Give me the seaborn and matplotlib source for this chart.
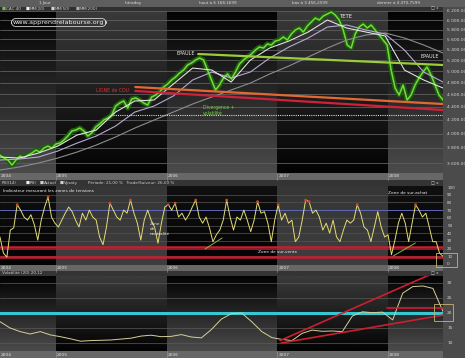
import numpy as np
import pandas as pd
import matplotlib
matplotlib.use("Agg")
import matplotlib.pyplot as plt
import matplotlib.dates as mdates
from matplotlib.colors import LinearSegmentedColormap
from matplotlib.patches import Rectangle
from matplotlib.ticker import FixedLocator, FixedFormatter, NullLocator
from matplotlib.transforms import blended_transform_factory
import seaborn as sns

# ------------------------------------------------------------------ data
years = [2004, 2005, 2006, 2007, 2008]
period_start = "2004-07-01"
period_end = "2008-06-30"

cac40 = [3704, 3665, 3639, 3574, 3639, 3691, 3665, 3704, 3731, 3771,
         3744, 3798, 3825, 3798, 3853, 3866, 3908, 3965, 4037, 4051,
         4080, 4037, 3965, 4008, 4095, 4139, 4198, 4228, 4274, 4414,
         4462, 4494, 4382, 4526, 4543, 4510, 4462, 4430, 4559, 4591,
         4641, 4724, 4775, 4844, 4896, 4967, 5020, 5111, 5148, 5203,
         5240, 5203, 5020, 4844, 4674, 4758, 4879, 4949, 4861, 4985,
         5129, 5203, 5259, 5316, 5392, 5451, 5431, 5510, 5490, 5569,
         5589, 5650, 5589, 5710, 5792, 5834, 5751, 5876, 5961, 6046,
         6003, 6089, 6133, 6178, 6111, 6003, 5792, 5490, 5431, 5710,
         5855, 5918, 5834, 5897, 5792, 5690, 5589, 5490, 5020, 4708,
         4591, 4758, 4510, 4591, 4758, 4879, 4985, 5074, 4931, 4758,
         4591, 4510]

mm20 = [3678, 3665, 3731, 3825, 3979, 4051, 4320, 4494, 4510, 4775, 5056, 5020,
        4809, 5203, 5431, 5569, 5751, 6003, 5834, 5751, 5670, 5020, 4844, 4708]
mm50 = [3639, 3652, 3678, 3758, 3866, 3965, 4109, 4320, 4414, 4575, 4844, 4985,
        4879, 4985, 5240, 5451, 5629, 5855, 5897, 5792, 5710, 5392, 4985, 4809]
mm200 = [3511, 3549, 3600, 3665, 3744, 3839, 3951, 4080, 4198, 4320, 4446, 4559,
         4674, 4792, 4949, 5093, 5259, 5431, 5589, 5690, 5731, 5629, 5490, 5335]

rsi = [35, 14, 9, 44, 47, 77, 70, 61, 57, 64, 51, 31, 57, 74, 87, 61, 53, 48, 57, 66,
       74, 68, 57, 48, 66, 57, 70, 61, 57, 35, 25, 48, 79, 70, 61, 57, 70, 66, 83, 66,
       53, 31, 57, 70, 57, 48, 27, 53, 74, 77, 70, 79, 61, 66, 57, 64, 74, 83, 61, 53,
       61, 47, 29, 38, 44, 57, 83, 61, 44, 61, 57, 70,
       57, 42, 57, 81, 66, 68, 53, 29, 57, 77, 57, 66, 53, 57, 29, 35, 57, 83, 81, 66,
       70, 61, 44, 53, 40, 57, 35, 29, 44, 57, 53, 57, 77, 66, 48, 44, 29, 48, 68, 48,
       35, 38, 12, 31, 53, 66, 53, 29, 53, 77, 70, 61, 66, 48, 29, 29, 14, 10]

volatilite = [17.1, 15.0, 13.8, 13.0, 13.8, 12.7, 12.1, 11.4, 10.6, 10.8,
              10.9, 11.0, 11.3, 11.6, 12.3, 12.6, 12.1, 12.2, 12.8, 12.0,
              11.7, 14.5, 18.0, 19.8, 20.0, 17.1, 13.8, 11.8, 11.2, 10.8,
              13.2, 14.3, 13.9, 14.0, 13.8, 19.0, 20.4, 20.1, 20.3, 17.7,
              26.6, 28.8, 29.0, 28.2, 20.5]

price_ticks = [3600, 3800, 4000, 4200, 4400, 4600, 4800, 5000, 5200, 5400, 5600, 5800, 6000, 6200]
rsi_ticks = [0, 10, 20, 30, 40, 50, 60, 70, 80, 90, 100]
vol_ticks = [10, 15, 20, 25, 30]

# hand-drawn lines of the analyst (dates, values)
epaule_line_dates, epaule_line_vals = ["2006-04-15", "2008-06-30"], [5316, 5111]
cou_orange_dates, cou_orange_vals = ["2005-09-20", "2008-06-30"], [4724, 4446]
cou_red_dates, cou_red_vals = ["2005-09-20", "2008-06-30"], [4658, 4351]
support_dates, support_vals = ["2005-07-08", "2008-06-30"], [4274, 4274]
rsi_div1_dates, rsi_div1_vals = ["2006-05-08", "2006-07-03"], [19.5, 33.8]
rsi_div2_dates, rsi_div2_vals = ["2008-01-18", "2008-03-31"], [10.4, 27.3]
rsi_red_levels = [22.5, 8.7]
rsi_blue_level = 70
vol_ref_level = 20
vol_up_dates, vol_up_vals = ["2007-01-10", "2008-06-10"], [10.8, 33.8]
vol_low_dates, vol_low_vals = ["2007-01-14", "2008-06-30"], [10.0, 19.3]
vol_flat_dates, vol_flat_vals = ["2007-12-29", "2008-06-30"], [21.7, 21.7]

# ------------------------------------------------------------------ frames
t0, t1 = pd.Timestamp(period_start), pd.Timestamp(period_end)
price_df = pd.DataFrame({"date": pd.date_range(t0, t1, periods=len(cac40)), "cac40": cac40})
ma_df = pd.DataFrame({"date": pd.date_range(t0, t1, periods=len(mm20)),
                      "mm20": mm20, "mm50": mm50, "mm200": mm200})
rsi_df = pd.DataFrame({"date": pd.date_range(t0, t1, periods=len(rsi)), "rsi": rsi})
vol_df = pd.DataFrame({"date": pd.date_range(t0, t1, periods=len(volatilite)), "vol": volatilite})

# ------------------------------------------------------------------ figure
sns.set_style("dark")
plt.rcParams["font.family"] = ["DejaVu Sans"]

W, H = 465, 358
fig = plt.figure(figsize=(W / 100, H / 100), dpi=100, facecolor="#4b4b4b")


def frect(x0, y0, x1, y1):
    return [x0 / W, 1 - y1 / H, (x1 - x0) / W, (y1 - y0) / H]


def ftext(x, y, s, **kw):
    kw.setdefault("fontsize", 3.2)
    kw.setdefault("color", "#dcdcdc")
    kw.setdefault("va", "center")
    return fig.text(x / W, 1 - y / H, s, **kw)


def band(x0, y0, x1, y1, color, ec="none"):
    fig.patches.append(Rectangle((x0 / W, 1 - y1 / H), (x1 - x0) / W, (y1 - y0) / H,
                                 transform=fig.transFigure, facecolor=color,
                                 edgecolor=ec, lw=0.5, zorder=0.5))


GRAY, BLACK = "#4a4a4a", "#030303"
bounds = [t0] + [pd.Timestamp(f"{y}-01-01") for y in years[1:]] + [t1]
dnum = [mdates.date2num(b) for b in bounds]
grad = np.linspace(0, 1, 64)[:, None]


def panel(rect, mode):
    bg = fig.add_axes(rect, zorder=0)
    for i in range(len(years)):
        even = (years[i] % 2 == 0)
        if mode == "grad":
            cols = [GRAY, BLACK] if even else [BLACK, "#3a3a3a"]   # bottom -> top
        else:
            cols = [BLACK, "#101010"] if even else ["#3e3e3e", "#363636"]
        cm = LinearSegmentedColormap.from_list("c", cols)
        bg.imshow(grad, extent=(dnum[i], dnum[i + 1], 0, 1), aspect="auto",
                  cmap=cm, vmin=0, vmax=1, origin="lower", interpolation="bilinear")
    bg.set_xlim(dnum[0], dnum[-1])
    bg.set_ylim(0, 1)
    bg.axis("off")
    ax = fig.add_axes(rect, zorder=1)
    ax.set_facecolor("none")
    for s in ax.spines.values():
        s.set_visible(False)
    return ax


def finish(ax, strip_y):
    ax.set_xlim(t0, t1)
    ax.set_xticks([])
    ax.set_xlabel("")
    ax.set_ylabel("")
    ax.yaxis.tick_right()
    ax.tick_params(axis="y", length=0, labelsize=3.2, labelcolor="#d5d5d5", pad=3)
    ax.grid(False)
    tr = blended_transform_factory(ax.transData, fig.transFigure)
    for i, y in enumerate(years):
        ax.text(dnum[i] + 3, 1 - strip_y / H, str(y), transform=tr, fontsize=3.2,
                color="#e2e2e2", ha="left", va="center")
        if i > 0:
            ax.plot([dnum[i], dnum[i]], [1 - (strip_y - 3.5) / H, 1 - (strip_y + 3.5) / H],
                    transform=tr, color="#9a9a9a", lw=0.4, clip_on=False)


# strips / bars
band(0, 0, W, 6.5, "#5e5e5e")
band(0, 6.5, 443, 10.5, "#303030")
band(0, 173, 443, 180, "#676767")
band(0, 180, 443, 186, "#343434")
band(0, 265, 443, 271, "#676767")
band(0, 271, 443, 276, "#343434")
band(0, 351, 443, 358, "#676767")

# ------------------------------------------------------------------ main panel
ax1 = panel(frect(0, 10, 443, 173), "grad")
ax1.set_yscale("log")
for t in price_ticks:
    ax1.axhline(t, color="#5f5f5f", lw=0.6, zorder=1)
sns.lineplot(data=price_df, x="date", y="cac40", ax=ax1, color="#1c5e0e", linewidth=3.6, zorder=3)
sns.lineplot(data=price_df, x="date", y="cac40", ax=ax1, color="#78d83e", linewidth=1.1, zorder=4)
sns.lineplot(data=ma_df, x="date", y="mm200", ax=ax1, color="#8d8d8d", linewidth=0.8, zorder=5)
sns.lineplot(data=ma_df, x="date", y="mm50", ax=ax1, color="#b8a8d4", linewidth=0.8, zorder=5)
sns.lineplot(data=ma_df, x="date", y="mm20", ax=ax1, color="#e8e8e8", linewidth=0.75, zorder=6)
ax1.plot(pd.to_datetime(support_dates), support_vals, color="#d8d8d8", lw=0.8, ls=(0, (1, 1)), zorder=6)
ax1.plot(pd.to_datetime(cou_orange_dates), cou_orange_vals, color="#e26a32", lw=1.6, zorder=7)
ax1.plot(pd.to_datetime(cou_red_dates), cou_red_vals, color="#d0203a", lw=1.6, zorder=7)
ax1.plot(pd.to_datetime(epaule_line_dates), epaule_line_vals, color="#9ccc3a", lw=1.6, zorder=7)
ax1.set_ylim(3474, 6222)
ax1.yaxis.set_major_locator(FixedLocator(price_ticks))
ax1.yaxis.set_minor_locator(NullLocator())
ax1.yaxis.set_major_formatter(FixedFormatter([f"{t:,.2f}".replace(",", " ") for t in price_ticks]))
finish(ax1, 176.5)

# ------------------------------------------------------------------ RSI panel
ax2 = panel(frect(0, 186, 443, 265), "flat")
for t in rsi_ticks[1:-1]:
    ax2.axhline(t, color="#555555", lw=0.5, zorder=1)
ax2.axhline(rsi_blue_level, color="#5d68b5", lw=0.7, zorder=1)
for lv in rsi_red_levels:
    ax2.axhline(lv, color="#c81d31", lw=1.8, zorder=2)
sns.lineplot(data=rsi_df, x="date", y="rsi", ax=ax2, color="#e4dc72", linewidth=0.7, zorder=4)
sns.scatterplot(data=rsi_df[rsi_df["rsi"] >= 77], x="date", y="rsi", ax=ax2,
                color="#d24a2c", s=4, edgecolor="none", zorder=5)
ax2.plot(pd.to_datetime(rsi_div1_dates), rsi_div1_vals, color="#7fb84a", lw=0.7, zorder=6)
ax2.plot(pd.to_datetime(rsi_div2_dates), rsi_div2_vals, color="#7fb84a", lw=0.7, zorder=6)
ax2.set_ylim(-1.3, 101.3)
ax2.yaxis.set_major_locator(FixedLocator(rsi_ticks))
ax2.yaxis.set_major_formatter(FixedFormatter([str(t) for t in rsi_ticks]))
finish(ax2, 268)
ax2.tick_params(axis="y", labelsize=3.0)

# ------------------------------------------------------------------ volatility panel
ax3 = panel(frect(0, 276, 443, 351), "grad")
for t in vol_ticks:
    ax3.axhline(t, color="#5a5a5a", lw=0.5, zorder=1)
ax3.axhline(vol_ref_level, color="#36c8d2", lw=2.2, zorder=2)
sns.lineplot(data=vol_df, x="date", y="vol", ax=ax3, color="#d8cf96", linewidth=0.7, zorder=4)
for d, v in [(vol_up_dates, vol_up_vals), (vol_low_dates, vol_low_vals), (vol_flat_dates, vol_flat_vals)]:
    ax3.plot(pd.to_datetime(d), v, color="#cc1f30", lw=1.2, zorder=5)
ax3.set_ylim(7.33, 32.33)
ax3.yaxis.set_major_locator(FixedLocator(vol_ticks))
ax3.yaxis.set_major_formatter(FixedFormatter([str(t) for t in vol_ticks]))
finish(ax3, 354.5)

# ------------------------------------------------------------------ texts
ftext(45, 3.2, "1 Jour", ha="center", fontsize=3.0)
ftext(133, 3.2, "Intraday", ha="center", fontsize=3.0)
ftext(218, 3.2, "haut à 6 168,1699", ha="center", fontsize=3.0)
ftext(310, 3.2, "bas à 3 456,2599", ha="center", fontsize=3.0)
ftext(398, 3.2, "dernier à 4 470,7599", ha="center", fontsize=3.0)

ftext(2, 8.6, "■", color="#6cc63a", fontsize=3.0)
ftext(6, 8.6, "CAC 40", fontsize=3.0, color="#cfcfcf")
ftext(26, 8.6, "■", color="#f2f2f2", fontsize=3.0)
ftext(30, 8.6, "MM(20)", fontsize=3.0, color="#cfcfcf")
ftext(51, 8.6, "■", color="#d6d6d6", fontsize=3.0)
ftext(55, 8.6, "MM(50)", fontsize=3.0, color="#cfcfcf")
ftext(76, 8.6, "■", color="#b0b0b0", fontsize=3.0)
ftext(80, 8.6, "MM(200)", fontsize=3.0, color="#cfcfcf")

ftext(2, 183, "RSI(14)", fontsize=3.0, color="#cfcfcf")
ftext(26, 183, "■", color="#f0f0f0", fontsize=3.0)
ftext(30, 183, "RSI", fontsize=3.0, color="#cfcfcf")
ftext(40, 183, "■", color="#d0d0d0", fontsize=3.0)
ftext(44, 183, "Actuel", fontsize=3.0, color="#cfcfcf")
ftext(60, 183, "■", color="#d0d0d0", fontsize=3.0)
ftext(64, 183, "Vysaty", fontsize=3.0, color="#cfcfcf")
ftext(88, 183, "Période: 21,00 %   Trade/Suiveur: 26,00 %", fontsize=3.0, color="#cfcfcf")
ftext(2, 273.5, "Volatilité (20) 20,12", fontsize=3.0, color="#cfcfcf")

for yy in (8.6, 183, 273.5):
    ftext(431, yy, "□ x", fontsize=3.0, color="#d0d0d0")

ftext(13, 22.5, "www.apprendrelabourse.org", fontsize=4.6, color="#f0f0f0",
      bbox=dict(boxstyle="round,pad=0.25,rounding_size=0.8", fc="none", ec="#d0d0d0", lw=0.6))
ftext(176, 53.5, "EPAULE", fontsize=3.5, color="#f0f0f0")
ftext(340, 17, "TETE", fontsize=3.8, color="#f0f0f0")
ftext(420, 57, "EPAULE", fontsize=3.5, color="#f0f0f0")
ftext(96, 90, "LIGNE de COU", fontsize=3.3, color="#e23030")
ftext(203, 107.5, "Divergence +", fontsize=3.3, color="#7ccc4a")
ftext(203, 114, "volatilité", fontsize=3.3, color="#7ccc4a")

ftext(3, 191.5, "Indicateur mesurant les zones de tensions", fontsize=3.1, color="#efefef")
ftext(150, 229, "Zone\nde\nneutralité", fontsize=3.0, color="#efefef", linespacing=1.2)
ftext(388, 193.5, "Zone de sur-achat", fontsize=3.1, color="#efefef")
ftext(258, 252, "Zone de sur-vente", fontsize=3.1, color="#efefef")

# current value boxes
for (x0, y0, x1, y1) in [(436, 253, 457, 267), (434, 304, 453, 321)]:
    fig.patches.append(Rectangle((x0 / W, 1 - y1 / H), (x1 - x0) / W, (y1 - y0) / H,
                                 transform=fig.transFigure, fill=False,
                                 edgecolor="#c4b574", lw=0.6, zorder=3))

fig.savefig("out.png", dpi=100, facecolor=fig.get_facecolor())
